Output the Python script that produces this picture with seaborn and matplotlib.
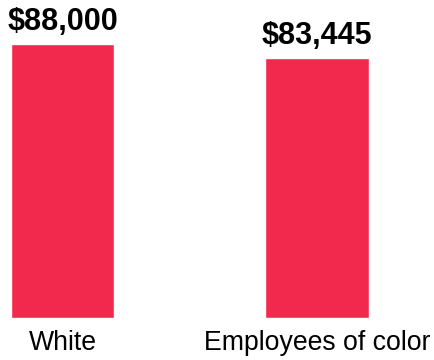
import matplotlib
matplotlib.use("Agg")
import matplotlib.pyplot as plt
import seaborn as sns
import pandas as pd

groups = ["White", "Employees of color"]
salaries = [88000, 83445]

sns.set_style("white")
plt.rcParams["font.family"] = ["Liberation Sans", "DejaVu Sans"]
plt.rcParams["text.color"] = "black"
plt.rcParams["xtick.color"] = "black"

df = pd.DataFrame({"group": groups, "salary": salaries})

fig = plt.figure(figsize=(4.35, 3.6), dpi=100)
ax = fig.add_axes([0, 42 / 360, 1, 311.4 / 360])

sns.barplot(data=df, x="group", y="salary", color="#F2284C",
            width=0.405, saturation=1, ax=ax)

ax.set_ylim(0, 100000)
ax.set_xlim(-0.2456, 1.4637)

ax.bar_label(ax.containers[0], labels=[f"${v:,.0f}" for v in salaries],
             padding=5, fontsize=22, fontweight="bold", color="black")

ax.set_xlabel("")
ax.set_ylabel("")
ax.set_yticks([])
ax.tick_params(axis="x", length=0, pad=9, labelsize=19.2, labelcolor="black")
for s in ax.spines.values():
    s.set_visible(False)

fig.savefig("out.png", dpi=100)
